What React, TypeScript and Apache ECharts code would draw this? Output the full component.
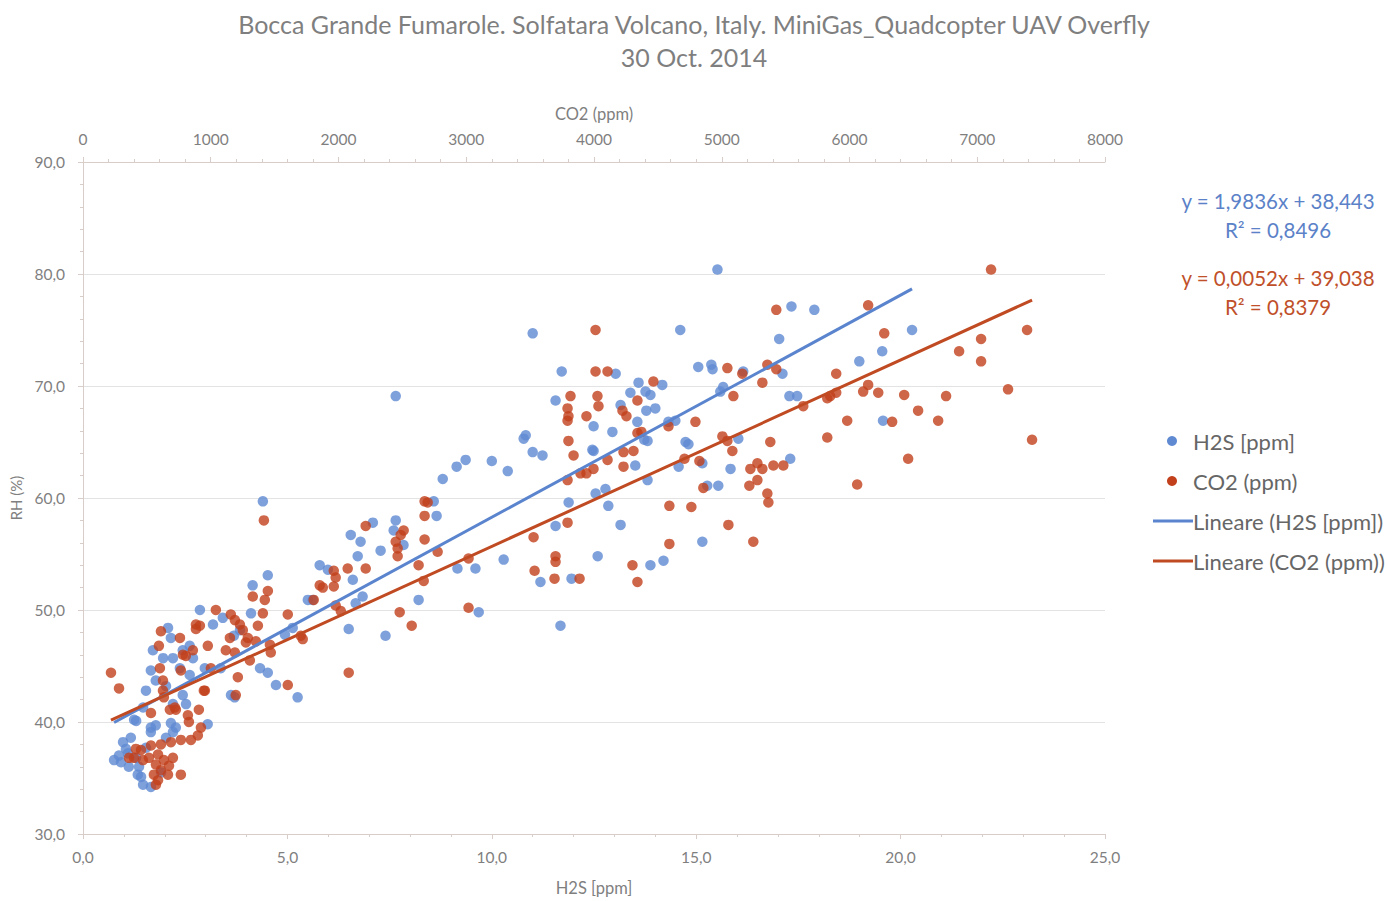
import React, { useEffect, useRef } from "react";
import * as echarts from "echarts";

// H2S [ppm] vs RH (%)
const h2sPoints: number[][] = [
  [0.76,36.6],[0.88,37.0],[0.93,36.4],[1.05,37.6],[0.98,38.2],[1.17,38.6],[1.30,36.8],[1.37,36.0],[1.42,35.1],[1.47,34.4],
  [1.54,37.7],[1.66,39.1],[1.78,39.7],[1.91,35.5],[2.03,38.6],[2.15,39.9],[2.27,39.5],[1.66,34.2],[1.12,36.0],[1.34,35.3],
  [1.25,40.2],[1.10,37.2],
  [4.52,53.1],[4.15,52.2],[2.86,50.0],[2.08,48.4],[3.18,48.7],[3.42,49.3],[4.11,49.7],[3.84,48.2],[1.71,46.4],[1.96,45.7],
  [2.20,45.7],[2.44,46.4],[2.61,46.8],[2.69,45.7],[2.98,44.8],[2.61,44.2],[2.37,44.8],[1.54,42.8],[1.78,43.7],[2.03,43.2],
  [2.44,42.4],[2.20,41.6],[2.52,41.6],[3.62,42.4],[3.71,42.2],[4.33,44.8],[4.52,44.4],[4.72,43.3],[5.25,42.2],[5.79,54.0],
  [5.99,53.6],[5.62,50.9],[5.13,48.4],[4.94,47.8],[1.30,40.1],[1.66,39.5],[2.20,39.1],[3.05,39.8],[1.47,41.3],[4.40,59.7],
  [2.15,47.5],[1.66,44.6],[3.37,44.8],[3.69,47.7],[5.50,50.9],
  [7.65,69.1],[11.56,68.7],[10.78,65.3],[10.83,65.6],[11.00,64.1],[11.24,63.8],[9.36,63.4],[9.14,62.8],[10.00,63.3],[10.39,62.4],
  [8.80,61.7],[12.49,66.4],[12.46,64.3],[8.58,59.7],[8.65,58.4],[7.65,58.0],[7.60,57.1],[7.09,57.8],[6.55,56.7],[6.79,56.1],
  [6.72,54.8],[7.28,55.3],[7.84,55.8],[11.88,59.6],[11.56,57.5],[12.54,60.4],[12.59,54.8],[6.60,52.7],[6.84,51.2],[6.67,50.6],
  [8.21,50.9],[9.16,53.7],[9.60,53.7],[10.29,54.5],[11.19,52.5],[11.95,52.8],[9.68,49.8],[6.50,48.3],[7.40,47.7],[11.68,48.6],
  [15.52,80.4],[11.00,74.7],[14.61,75.0],[11.71,71.3],[13.03,71.1],[13.59,70.3],[13.39,69.4],[13.76,69.5],[13.88,69.2],[14.17,70.1],
  [13.78,67.8],[14.00,68.0],[13.15,68.3],[13.56,66.8],[12.95,65.9],[15.05,71.7],[15.37,71.9],[15.40,71.5],[16.15,71.3],[17.03,74.2],
  [17.33,77.1],[17.11,71.1],[17.28,69.1],[17.47,69.1],[15.59,69.5],[15.66,69.9],[14.49,66.9],[14.32,66.8],[13.73,65.2],[13.81,65.1],
  [14.74,65.0],[14.81,64.8],[16.03,65.3],[15.15,63.1],[15.84,62.6],[17.30,63.5],[14.57,62.8],[13.81,61.6],[13.51,62.9],[12.49,64.2],
  [12.78,60.8],[15.27,61.1],[15.54,61.1],[12.85,59.3],[13.15,57.6],[15.15,56.1],[13.88,54.0],[14.20,54.4],[17.89,76.8],[20.28,75.0],
  [19.55,73.1],[18.99,72.2],[19.57,66.9]
];

// CO2 (ppm) vs RH (%)
const co2Points: number[][] = [
  [219,44.4],[282,43.0],
  [626,43.7],[626,42.8],[633,42.2],[727,41.1],[532,40.8],[821,40.6],[829,40.0],[907,41.1],[946,42.8],[1196,42.4],[923,39.5],
  [899,38.8],[845,38.4],[766,38.4],[688,38.2],[610,38.0],[532,37.9],[454,37.5],[399,36.8],[469,36.6],[516,36.8],[587,37.1],
  [571,36.2],[633,36.6],[673,36.1],[610,35.7],[555,35.3],[665,35.3],[587,34.8],[571,34.4],[766,35.3],[704,36.8],[360,36.8],[414,37.6],
  [610,48.1],[594,46.8],[602,44.8],[759,47.5],[782,46.0],[766,44.6],[884,48.7],[884,48.3],[915,48.6],[1040,50.0],[860,46.4],
  [805,45.9],[977,46.8],[1001,44.8],[1157,49.6],[1189,49.1],[1228,48.7],[1251,48.2],[1290,47.5],[1150,47.5],[1118,46.4],[1275,47.1],
  [1353,47.2],[1408,49.7],[1447,51.7],[1329,51.2],[1423,50.9],[1603,49.6],[1189,46.2],[1212,44.0],[1306,45.5],[1470,46.2],[1463,46.9],
  [1705,47.7],[1720,47.4],[1603,43.3],[954,42.8],[1853,52.2],[680,41.1],[719,41.3],[1416,58.0],[1369,48.6],
  [3816,69.1],[4027,69.1],[4035,68.2],[3793,68.0],[3800,67.3],[3793,66.9],[3941,67.3],[3800,65.1],[3840,63.8],[3996,62.6],
  [3894,62.2],[3793,61.6],[2674,59.7],[2698,59.6],[2674,58.4],[2674,56.3],[2463,54.8],[2463,55.5],[2448,56.1],[2487,56.7],
  [2510,57.1],[2213,57.5],[2213,53.7],[2072,53.7],[1963,53.5],[1978,52.9],[1963,52.1],[1877,52.0],[1806,50.9],[1978,50.4],
  [2018,49.9],[2627,54.0],[2667,52.6],[2776,55.2],[3018,54.6],[2479,49.8],[2573,48.6],[2080,44.4],[3527,56.5],[3535,53.5],
  [3699,54.8],[3699,54.3],[3691,52.8],[3887,52.8],[3793,57.8],[3018,50.2],
  [4012,75.0],[4012,71.3],[4106,71.3],[4223,67.8],[4254,67.3],[4340,68.7],[4465,70.4],[5044,71.6],[5161,71.1],[5091,69.1],
  [5357,71.9],[5318,70.3],[5427,71.5],[5427,76.8],[4340,65.8],[4371,65.9],[4309,64.2],[4231,64.1],[4106,63.4],[4231,62.8],
  [3941,62.2],[4583,66.4],[4794,66.8],[5005,65.5],[5044,65.1],[5083,64.2],[4708,63.5],[4825,63.3],[5380,65.0],[5224,62.6],
  [5279,63.1],[5318,62.6],[5404,62.9],[5482,62.9],[5279,61.6],[5216,61.1],[4856,60.9],[5357,60.4],[5365,59.6],[4590,59.3],
  [4762,59.2],[5052,57.6],[5247,56.1],[4590,55.9],[4301,54.0],[4340,52.5],
  [7108,80.4],[6146,77.2],[6272,74.7],[7390,75.0],[7030,74.2],[6858,73.1],[7030,72.2],[5896,71.1],[6146,70.1],[6107,69.5],
  [6225,69.4],[6428,69.2],[7241,69.7],[6756,69.1],[5849,69.1],[5896,69.4],[5826,68.9],[5638,68.2],[6537,67.8],[5982,66.9],
  [6334,66.8],[6694,66.9],[5826,65.4],[6459,63.5],[7429,65.2],[6060,61.2]
];

// Linear fits (from the chart's equations)
const h2sFit = { slope: 1.9836, intercept: 38.443 };
const co2Fit = { slope: 0.0052, intercept: 39.038 };
const h2sTrendX = [0.76, 20.28];
const co2TrendX = [219, 7429];

const titleLines = [
  "Bocca Grande Fumarole. Solfatara Volcano, Italy. MiniGas_Quadcopter UAV Overfly",
  "30 Oct. 2014",
];
const legendNames = ["H2S [ppm]", "CO2 (ppm)", "Lineare (H2S [ppm])", "Lineare (CO2 (ppm))"];
const eqTexts = ["y = 1,9836x + 38,443", "R² = 0,8496", "y = 0,0052x + 39,038", "R² = 0,8379"];

const BLUE = "#5f8ad2";
const RED = "#c2401c";
const BLUE_LINE = "#5a84cd";
const RED_LINE = "#c04a22";
const AXIS = "#d8cdc8";
const TEXT = "#7f7f7f";
const FONT = "Lato, 'Open Sans', sans-serif";

export default function App() {
  const ref = useRef<HTMLDivElement>(null);
  useEffect(() => {
    if (!ref.current) return;
    const chart = echarts.init(ref.current, null, { renderer: "svg" });
    const comma1 = (v: number) => v.toFixed(1).replace(".", ",");
    const plain = (v: number) => String(v);
    const trend = (xs: number[], f: { slope: number; intercept: number }) =>
      xs.map((x) => [x, f.slope * x + f.intercept]);

    const legendY = [441, 481, 521, 561];
    const graphic: any[] = [
      { type: "circle", shape: { cx: 1172, cy: legendY[0], r: 5 }, style: { fill: BLUE } },
      { type: "circle", shape: { cx: 1172, cy: legendY[1], r: 5 }, style: { fill: RED } },
      { type: "line", shape: { x1: 1153, y1: legendY[2], x2: 1193, y2: legendY[2] }, style: { stroke: BLUE_LINE, lineWidth: 3 } },
      { type: "line", shape: { x1: 1153, y1: legendY[3], x2: 1193, y2: legendY[3] }, style: { stroke: RED_LINE, lineWidth: 3 } },
      ...legendNames.map((t, i) => ({
        type: "text",
        x: 1193,
        y: legendY[i],
        style: { text: t, fill: "#666666", font: `22px ${FONT}`, verticalAlign: "middle", align: "left" },
      })),
      ...eqTexts.map((t, i) => ({
        type: "text",
        x: 1278,
        y: [201, 230, 278, 307][i],
        style: { text: t, fill: i < 2 ? "#5b82c8" : "#c0502a", font: `20.5px ${FONT}`, verticalAlign: "middle", align: "center" },
      })),
    ];

    chart.setOption({
      animation: false,
      backgroundColor: "#ffffff",
      title: {
        text: titleLines.join("\n"),
        left: "center",
        top: 2,
        textStyle: { color: TEXT, fontFamily: FONT, fontSize: 25, fontWeight: "normal", lineHeight: 33 },
      },
      grid: { left: 80, right: 283, top: 162, bottom: 61 },
      xAxis: [
        {
          type: "value",
          position: "bottom",
          min: 0,
          max: 25,
          interval: 5,
          name: "H2S [ppm]",
          nameLocation: "middle",
          nameGap: 45,
          nameTextStyle: { color: TEXT, fontFamily: FONT, fontSize: 16.5 },
          axisLine: { show: true, onZero: false, lineStyle: { color: AXIS } },
          axisTick: { show: true, length: 5, lineStyle: { color: AXIS } },
          minorTick: { show: true, splitNumber: 5, length: 3, lineStyle: { color: AXIS } },
          axisLabel: { color: TEXT, fontFamily: FONT, fontSize: 15.5, margin: 15, formatter: comma1 },
          splitLine: { show: false },
        },
        {
          type: "value",
          position: "top",
          min: 0,
          max: 8000,
          interval: 1000,
          name: "CO2 (ppm)",
          nameLocation: "middle",
          nameGap: 40,
          nameTextStyle: { color: TEXT, fontFamily: FONT, fontSize: 16.5 },
          axisLine: { show: true, onZero: false, lineStyle: { color: AXIS } },
          axisTick: { show: true, length: 5, lineStyle: { color: AXIS } },
          minorTick: { show: true, splitNumber: 5, length: 3, lineStyle: { color: AXIS } },
          axisLabel: { color: TEXT, fontFamily: FONT, fontSize: 15.5, margin: 15, formatter: plain },
          splitLine: { show: false },
        },
      ],
      yAxis: {
        type: "value",
        min: 30,
        max: 90,
        interval: 10,
        name: "RH (%)",
        nameLocation: "middle",
        nameGap: 60,
        nameRotate: 90,
        nameTextStyle: { color: TEXT, fontFamily: FONT, fontSize: 15 },
        axisLine: { show: true, lineStyle: { color: AXIS } },
        axisTick: { show: true, length: 5, lineStyle: { color: AXIS } },
        minorTick: { show: true, splitNumber: 5, length: 3, lineStyle: { color: AXIS } },
        axisLabel: { color: TEXT, fontFamily: FONT, fontSize: 15.5, margin: 18, formatter: comma1 },
        splitLine: { show: true, lineStyle: { color: "#e3e3e3" } },
      },
      series: [
        {
          name: legendNames[0],
          type: "scatter",
          xAxisIndex: 0,
          data: h2sPoints,
          symbolSize: 10.5,
          itemStyle: { color: BLUE },
          z: 2,
        },
        {
          name: legendNames[1],
          type: "scatter",
          xAxisIndex: 1,
          data: co2Points,
          symbolSize: 10.5,
          itemStyle: { color: RED },
          z: 3,
        },
        {
          name: legendNames[2],
          type: "line",
          xAxisIndex: 0,
          data: trend(h2sTrendX, h2sFit),
          showSymbol: false,
          symbol: "none",
          lineStyle: { color: BLUE_LINE, width: 3 },
          z: 4,
        },
        {
          name: legendNames[3],
          type: "line",
          xAxisIndex: 1,
          data: trend(co2TrendX, co2Fit),
          showSymbol: false,
          symbol: "none",
          lineStyle: { color: RED_LINE, width: 3 },
          z: 5,
        },
      ],
      graphic,
    });
    return () => chart.dispose();
  }, []);
  return (
    <div
      ref={ref}
      style={{ position: "fixed", left: 0, top: 0, width: 1388, height: 901, overflow: "hidden" }}
    />
  );
}
